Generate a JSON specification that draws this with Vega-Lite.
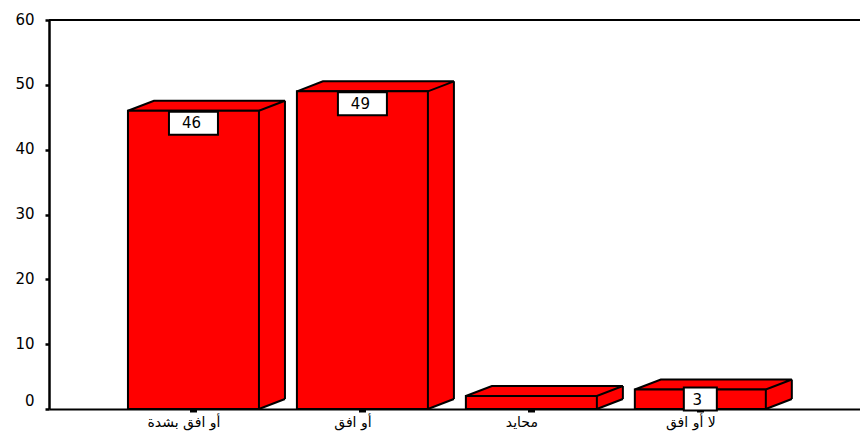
{
  "$schema": "https://vega.github.io/schema/vega-lite/v6.json",
  "width": 811,
  "height": 389,
  "autosize": {"type": "none"},
  "padding": {"left": 49, "top": 20, "right": 0, "bottom": 23},
  "background": "white",
  "view": {"stroke": null},
  "data": {"values": [
    {"category": "أو افق بشدة", "value": 46},
    {"category": "أو افق", "value": 49},
    {"category": "محايد", "value": 2},
    {"category": "لا أو افق", "value": 3}
  ]},
  "encoding": {
    "x": {
      "field": "category",
      "type": "nominal",
      "sort": null,
      "scale": {"type": "point", "padding": 0.9, "align": 0.475},
      "axis": {
        "title": null,
        "labelAngle": 0,
        "labelFont": "DejaVu Sans",
        "labelFontSize": 14,
        "labelColor": "#000000",
        "labelPadding": 3,
        "labelOffset": -10,
        "domainColor": "#000000",
        "domainWidth": 2,
        "tickColor": "#000000",
        "tickWidth": 7,
        "tickSize": 3
      }
    },
    "y": {
      "field": "value",
      "type": "quantitative",
      "scale": {"domain": [0, 60], "nice": false},
      "axis": {
        "title": null,
        "grid": false,
        "values": [0, 10, 20, 30, 40, 50, 60],
        "labelFont": "DejaVu Sans",
        "labelFontSize": 15,
        "labelColor": "#000000",
        "labelPadding": 11,
        "labelOffset": {"condition": {"test": "datum.value == 0", "value": -9}, "value": -1},
        "domainColor": "#000000",
        "domainWidth": 2.5,
        "tickColor": "#000000",
        "tickWidth": 2.5,
        "tickSize": 4
      }
    }
  },
  "layer": [
    {"mark": {"type": "rule", "color": "#000000", "strokeWidth": 2}, "encoding": {"x": {"value": 0}, "x2": {"value": 811}, "y": {"datum": 60}}},
    {"mark": {"type": "bar", "width": 131, "fill": "#ff0000", "stroke": null, "xOffset": 26, "yOffset": -10, "y2Offset": -10}, "encoding": {"y2": {"datum": 0}}},
    {"mark": {"type": "rule", "color": "#000000", "strokeWidth": 2, "xOffset": 91.5, "yOffset": -10, "y2Offset": -10}, "encoding": {"y2": {"datum": 0}}},
    {"mark": {"type": "point", "filled": true, "opacity": 1, "fill": "#ff0000", "stroke": null, "size": 4, "shape": "M65.5,0L91.5,-10L65.5,-10Z"}, "encoding": {"y": {"datum": 0}}},
    {"mark": {"type": "point", "filled": false, "opacity": 1, "stroke": "#000000", "strokeWidth": 2, "size": 4, "shape": "M65.5,0L91.5,-10"}, "encoding": {"y": {"datum": 0}}},
    {"mark": {"type": "point", "filled": true, "opacity": 1, "fill": "#ff0000", "stroke": "#000000", "strokeWidth": 2, "size": 4, "shape": "M-65.5,0L-39.5,-10L91.5,-10L65.5,0Z"}},
    {"mark": {"type": "bar", "width": 131, "fill": "#ff0000", "stroke": "#000000", "strokeWidth": 2}, "encoding": {"y2": {"datum": 0}}},
    {
      "transform": [{"filter": "datum.value >= 10"}],
      "mark": {"type": "point", "filled": true, "opacity": 1, "fill": "#ffffff", "stroke": "#000000", "strokeWidth": 2, "size": 4, "yOffset": 12.5, "shape": "M-24.5,-11.5L24.5,-11.5L24.5,11.5L-24.5,11.5Z"}
    },
    {
      "transform": [{"filter": "datum.value >= 10"}],
      "mark": {"type": "text", "font": "DejaVu Sans", "fontSize": 15, "color": "#000000", "yOffset": 12.5, "xOffset": -2},
      "encoding": {"text": {"field": "value", "type": "quantitative"}}
    },
    {
      "transform": [{"filter": "datum.value == 3"}],
      "mark": {"type": "point", "filled": true, "opacity": 1, "fill": "#ffffff", "stroke": "#000000", "strokeWidth": 2, "size": 4, "yOffset": 9.5, "shape": "M-16.5,-11.5L16.5,-11.5L16.5,11.5L-16.5,11.5Z"}
    },
    {
      "transform": [{"filter": "datum.value == 3"}],
      "mark": {"type": "text", "font": "DejaVu Sans", "fontSize": 15, "color": "#000000", "yOffset": 10, "xOffset": -3},
      "encoding": {"text": {"field": "value", "type": "quantitative"}}
    }
  ]
}
